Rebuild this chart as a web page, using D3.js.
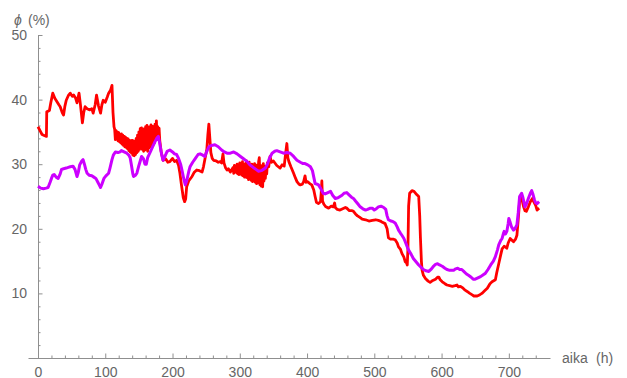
<!DOCTYPE html>
<html>
<head>
<meta charset="utf-8">
<script src="https://cdn.jsdelivr.net/npm/d3@7"></script>
<style>
  html, body { margin: 0; padding: 0; background: #fff; }
  svg { display: block; font-family: "Liberation Sans", Arial, sans-serif; }
</style>
</head>
<body>
<svg id="chart" width="627" height="378"></svg>
<script>
// Relative humidity φ (%) over time (h), two measurement series.
const redSeries = [
  [0,35.8],[3,35.2],[6,34.6],[10,34.4],[12.5,34.3],[13,38.1],[17,38.3],[19,39.5],[22,41.0],[25,40.2],
  [28,39.7],[31,39.2],[33,38.9],[36,38.0],[38,37.6],[40,39.0],[42,39.9],[45,40.6],[48,41.0],[51,40.5],
  [53,40.7],[56,40.2],[58,39.5],[61,41.0],[63,39.3],[66,36.4],[68,38.0],[70,38.9],[73,38.6],[77,38.4],
  [80,38.6],[82,37.9],[85,39.2],[87,40.7],[90,39.0],[93,37.9],[95,39.2],[97,39.9],[100,39.6],[103,40.4],
  [105,41.0],[108,41.5],[110,42.2],[111.5,38.0],[113,35.8],
  [114,35.4],[115,33.8],[116,35.2],[117,34.0],[118,35.0],[119,33.6],[120,34.9],[121,33.5],[122,34.6],
  [123,33.3],[124,34.7],[125,33.1],[126,34.5],[127,32.9],[128,34.3],[129,32.7],[130,34.2],[131,32.6],
  [132,34.0],[133,32.4],[134,33.9],[135,32.1],[136,33.7],[137,31.9],[138,33.6],[139,31.7],[140,33.7],
  [141,31.4],[142,33.6],[143,31.3],[144,33.5],[145,31.5],[146,34.0],[147,31.8],[148,34.5],[149,32.0],
  [150,35.0],[151,32.3],[152,35.5],[153,32.5],[154,35.6],[155,32.3],[156,35.3],[157,32.0],[158,35.5],
  [159,32.2],[160,35.8],[161,32.4],[162,36.0],[163,32.0],[164,35.6],[165,32.5],[166,35.8],[167,32.7],
  [168,36.1],[169,32.8],[170,35.9],[171,33.0],[172,35.8],[173,33.3],[174,36.2],[175,34.0],[176,36.7],
  [177,34.2],[178,35.8],[179,34.4],[180,35.6],[181,33.7],
  [183,32.0],[186,30.6],[190,30.8],[193,30.3],[196,30.4],[200,30.9],[203,30.4],[206,30.6],[209,29.8],
  [211,28.6],[213,27.0],[216,24.8],[218,24.2],[219.5,24.6],[221,26.5],[224,27.4],[229,28.1],[232,28.7],
  [236,29.1],[240,29.0],[244,28.8],[246,29.6],[248,30.7],[251,32.3],[252.5,34.5],[254,36.2],[255.5,34.0],
  [257,31.8],[259,30.9],[261,30.6],[265,30.5],[268,30.3],[271,30.4],[273,30.2],[275,31.6],[276.5,30.2],
  [279,29.4],[281,29.1],[283,29.3],[286,28.8],
  [290,29.5],[291,28.6],[292,29.8],[293,28.9],[294,29.6],[295,28.7],[296,30.0],[297,28.5],[298,29.9],
  [299,28.4],[300,30.2],[301,28.5],[302,29.9],[303,28.3],[304,30.4],[305,28.2],[306,29.8],[307,28.0],
  [308,30.1],[309,28.0],[310,30.5],[311,27.9],[312,29.9],[313,27.6],[314,30.3],[315,27.8],[316,29.6],
  [317,27.5],[318,30.0],[319,27.3],[320,29.8],[321,27.5],[322,30.1],[323,27.2],[324,29.5],[325,27.0],
  [326,29.9],[327,27.1],[328,30.4],[329,31.0],[330,26.8],[331,29.8],[332,26.6],[333,29.6],[334,26.5],
  [335,30.1],[336,27.4],[337,29.7],[338,27.8],[339,29.5],[340,28.5],[341,30.2],[343,29.6],
  [345,31.2],[347,30.3],[350,30.5],[355,29.8],[360,29.4],[363,29.9],[366,29.7],[368,31.5],[370,33.2],
  [371.5,31.0],[373,30.4],[376,29.6],[380,28.6],[383,27.8],[385,27.3],[388,26.9],[390,26.8],[393,26.9],
  [395,27.3],[397,28.2],[398.5,27.2],[401,27.3],[404,27.0],[407,26.8],[410,26.0],[412,25.0],[414,24.1],
  [417,23.9],[420,24.2],[421,25.5],[422,27.4],[423,24.3],[425,23.8],[428,23.4],[432,23.2],[436,23.5],
  [439,23.4],[441,24.0],[442,23.3],[445,23.0],[449,22.9],[453,23.1],[457,23.3],[459,23.2],[463,22.8],
  [467,22.8],[469,22.7],[472,22.3],[475,22.0],[478,21.8],[482,21.5],[487,21.4],[492,21.2],[497,21.3],
  [502,21.4],[506,21.3],[509,21.2],[512,21.0],[516,20.8],[519,20.0],[521,18.6],[524,18.4],[528,18.4],
  [531,18.3],[534,17.8],[536,17.2],[539,16.8],[541,16.2],[544,15.6],[546,14.9],[548,14.7],[549,14.4],
  [550,17.0],[551,23.5],[552.5,25.5],[556,25.9],[559,25.8],[563,25.3],[566,25.0],[567.5,22.0],[568.5,18.8],
  [570,15.0],[571,13.6],[573,12.8],[576,12.3],[580,11.9],[583,11.7],[587,12.0],[591,12.2],[594,12.5],
  [596,12.5],[598,12.1],[601,11.8],[605,11.5],[608,11.3],[612,11.2],[616,11.1],[620,11.2],[623,11.3],
  [625,11.0],[628,11.1],[632,10.8],[635,10.5],[638,10.3],[642,10.0],[645,9.8],[648,9.6],[653,9.6],
  [657,9.8],[660,10.0],[664,10.4],[668,10.8],[672,11.5],[675,11.8],[680,12.1],[682,13.2],[685,14.6],
  [688,16.0],[690,16.9],[693,17.3],[695,17.2],[697,17.0],[699,17.8],[702,18.5],[705,18.2],[707,18.0],
  [710,18.4],[712,19.0],[714,21.5],[716,24.2],[717.5,25.0],[720,24.3],[722,23.4],[724,22.8],[726,22.7],
  [729,23.4],[732,24.2],[735,24.7],[737,24.2],[740,23.6],[742,22.9],[745,23.2]
];

const purpleSeries = [
  [0,26.6],[4,26.3],[8,26.2],[12,26.3],[15,26.4],[18,27.2],[20,27.8],[22,28.3],[24,28.4],[27,28.0],
  [30,27.8],[33,28.5],[35,29.2],[38,29.3],[42,29.4],[45,29.5],[48,29.6],[52,29.7],[55,29.2],[58,28.1],
  [60,28.8],[62,29.9],[65,30.5],[67,30.7],[69,30.0],[71,29.2],[73,28.6],[76,28.3],[80,28.2],[83,28.0],
  [86,27.8],[89,27.2],[91,26.8],[93,26.4],[95,26.9],[98,27.8],[101,28.2],[105,28.6],[107,29.4],[110,30.7],
  [112,31.4],[115,31.9],[119,31.8],[122,31.9],[124,32.1],[128,31.9],[132,31.7],[135,31.4],[137,31.0],
  [139,29.8],[141,28.5],[142,28.1],[145,28.3],[147,28.6],[150,29.8],[154,31.2],[157,30.8],[159,30.0],
  [161,30.0],[163,31.0],[167,31.9],[170,32.6],[174,33.5],[177,34.1],[179,34.3],[181,33.2],[184,31.4],
  [186,30.6],[189,31.3],[192,32.0],[196,32.2],[200,31.9],[203,31.6],[206,31.5],[209,30.9],[212,30.0],
  [214,29.1],[217,27.6],[219,26.8],[221,27.4],[224,28.8],[226,29.6],[230,30.3],[234,30.9],[238,31.5],
  [241,31.6],[245,31.4],[248,31.2],[251,32.0],[254,32.7],[258,32.9],[263,33.0],[268,32.7],[273,32.2],
  [277,31.9],[281,31.7],[286,31.7],[291,31.9],[296,31.6],[301,31.2],[306,30.8],[311,30.4],[315,29.9],
  [320,29.5],[324,29.2],[328,28.9],[332,29.0],[335,29.2],[338,29.4],[341,30.0],[344,30.9],[348,31.7],
  [352,32.0],[355,32.1],[360,31.9],[365,31.7],[370,31.8],[375,31.7],[380,31.2],[385,30.6],[390,30.3],
  [394,30.1],[397,30.1],[401,29.9],[405,29.6],[408,29.0],[410,28.0],[412,27.0],[415,26.9],[417,26.8],
  [420,26.3],[424,25.5],[427,25.4],[431,25.6],[435,25.8],[438,25.2],[442,24.7],[446,24.8],[449,25.0],
  [452,25.2],[455,25.5],[459,25.6],[462,25.3],[466,24.9],[469,24.7],[472,24.3],[476,23.8],[479,23.4],
  [483,23.1],[487,22.9],[490,23.0],[494,23.2],[497,23.2],[500,22.9],[503,23.1],[506,23.4],[510,23.5],
  [514,23.3],[517,23.0],[519,22.0],[521,21.4],[525,21.2],[528,21.1],[531,20.9],[534,20.3],[536,19.8],
  [539,19.3],[541,19.0],[544,18.5],[546,18.0],[549,17.2],[551,16.7],[555,16.0],[558,15.4],[562,14.9],
  [566,14.4],[570,14.0],[573,13.7],[577,13.5],[581,13.4],[585,13.8],[588,14.2],[591,14.5],[594,14.6],
  [597,14.4],[601,14.2],[605,13.9],[608,13.7],[611,13.6],[615,13.6],[618,13.6],[621,13.8],[624,13.9],
  [627,13.7],[630,13.7],[633,13.4],[637,13.0],[640,12.8],[644,12.5],[647,12.2],[650,12.2],[654,12.4],
  [658,12.6],[662,12.9],[665,13.1],[669,13.7],[673,14.4],[677,15.0],[680,15.7],[683,16.7],[685,17.5],
  [688,18.2],[690,18.5],[692,19.3],[693,19.6],[695,19.2],[697,19.6],[699,20.8],[700,21.6],[702,21.0],
  [704,20.3],[707,19.8],[709,20.0],[712,20.6],[714,22.5],[716,25.0],[719,25.5],[721,24.8],[724,23.4],
  [726,23.8],[729,24.7],[732,25.5],[734,25.9],[736,25.3],[738,24.5],[740,24.0],[742,23.9],[745,24.2]
];

const xMajorTicks = [0, 100, 200, 300, 400, 500, 600, 700];
const xMinorTicks = [20,40,60,80,120,140,160,180,220,240,260,280,320,340,360,380,420,440,460,480,
                     520,540,560,580,620,640,660,680,720,740];
const yMajorTicks = [10, 20, 30, 40, 50];
const yMinorTicks = [2,4,6,8,12,14,16,18,22,24,26,28,32,34,36,38,42,44,46,48];

const svg = d3.select("#chart");
const axisColor = "#8f8f8f";
const labelColor = "#666666";

const x = d3.scaleLinear().domain([-14.87, 761.2]).range([28, 550]);
const y = d3.scaleLinear().domain([0, 50]).range([358, 35]);

function styleAxis(g) {
  g.attr("font-family", "'Liberation Sans', Arial, sans-serif").attr("font-size", 14);
  g.selectAll("path.domain").attr("stroke", axisColor).attr("stroke-width", 1);
  g.selectAll(".tick line").attr("stroke", axisColor).attr("stroke-width", 1);
  g.selectAll(".tick text").attr("fill", labelColor);
}

// x axis: major ticks with labels, minor ticks without
svg.append("g")
  .attr("transform", "translate(0,358)")
  .call(d3.axisBottom(x).tickValues(xMinorTicks).tickSize(-2.5).tickFormat(""))
  .call(g => g.select(".domain").remove())
  .call(styleAxis);
svg.append("g")
  .attr("transform", "translate(0,358)")
  .call(d3.axisBottom(x).tickValues(xMajorTicks).tickSizeInner(-4.5).tickSizeOuter(0).tickPadding(9))
  .call(styleAxis);

// y axis
svg.append("g")
  .attr("transform", "translate(38,0)")
  .call(d3.axisLeft(y).tickValues(yMinorTicks).tickSize(-2.5).tickFormat(""))
  .call(g => g.select(".domain").remove())
  .call(styleAxis);
svg.append("g")
  .attr("transform", "translate(38,0)")
  .call(d3.axisLeft(y).tickValues(yMajorTicks).tickSizeInner(-4.5).tickSizeOuter(0).tickPadding(11))
  .call(styleAxis);

// axis titles
svg.append("text")
  .attr("x", 14).attr("y", 25)
  .attr("font-size", 14).attr("font-style", "italic").attr("fill", labelColor)
  .text("ϕ");
svg.append("text")
  .attr("x", 28).attr("y", 25)
  .attr("font-size", 14).attr("fill", labelColor)
  .text("(%)");

svg.append("text").attr("x", 562).attr("y", 363)
  .attr("font-size", 14).attr("fill", labelColor).text("aika");
svg.append("text").attr("x", 596).attr("y", 363)
  .attr("font-size", 14).attr("fill", labelColor).text("(h)");

// series lines
const line = d3.line().x(d => x(d[0])).y(d => y(d[1]));

svg.append("path")
  .datum(redSeries)
  .attr("d", line)
  .attr("fill", "none")
  .attr("stroke", "#ff0000")
  .attr("stroke-width", 2.8)
  .attr("stroke-linejoin", "round");

svg.append("path")
  .datum(purpleSeries)
  .attr("d", line)
  .attr("fill", "none")
  .attr("stroke", "#cc00ff")
  .attr("stroke-width", 3)
  .attr("stroke-linejoin", "round");
</script>
</body>
</html>
